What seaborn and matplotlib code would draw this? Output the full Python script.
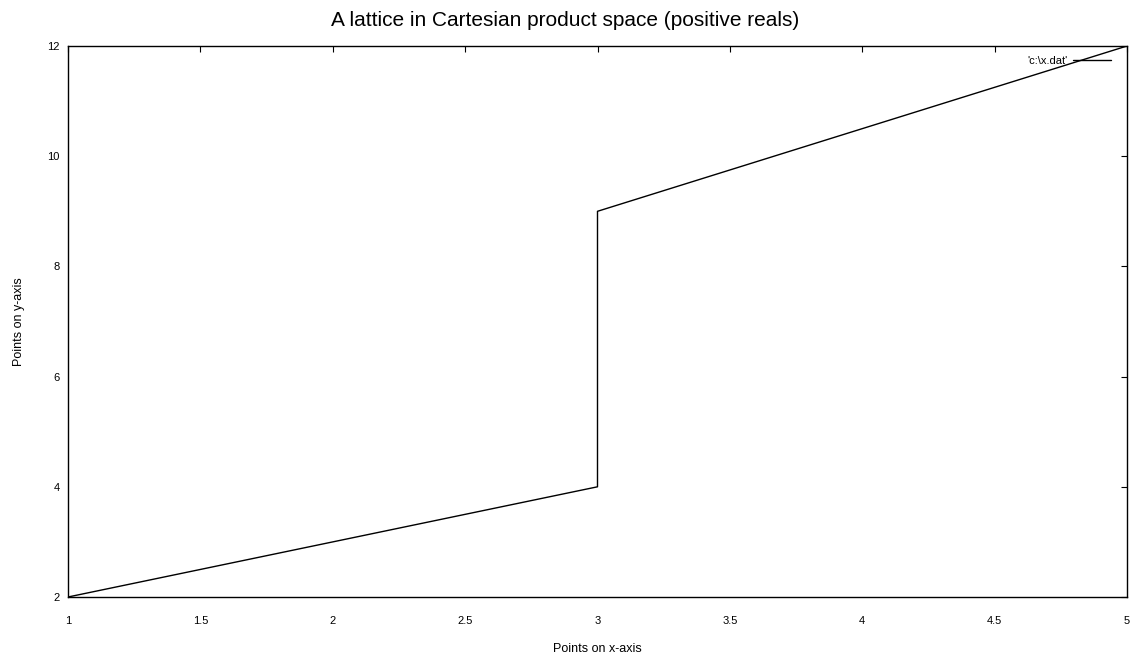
import matplotlib
matplotlib.use("Agg")
import matplotlib.pyplot as plt
import pandas as pd
import seaborn as sns

# data
x_vals = [1, 3, 3, 5]
y_vals = [2, 4, 9, 12]
x_ticks = [1, 1.5, 2, 2.5, 3, 3.5, 4, 4.5, 5]
x_tick_labels = ['1', '1.5', '2', '2.5', '3', '3.5', '4', '4.5', '5']
y_ticks = [2, 4, 6, 8, 10, 12]

df = pd.DataFrame({'x': x_vals, 'y': y_vals})

sns.set_style('white')
plt.rcParams['font.family'] = ['Liberation Sans', 'DejaVu Sans']
plt.rcParams['text.color'] = 'black'
plt.rcParams['axes.labelcolor'] = 'black'
plt.rcParams['xtick.color'] = 'black'
plt.rcParams['ytick.color'] = 'black'

fig = plt.figure(figsize=(11.31, 6.61), dpi=100)
ax = fig.add_axes([68 / 1131, 1 - 597 / 661, (1127 - 68) / 1131, (597 - 46) / 661])

sns.lineplot(data=df, x='x', y='y', ax=ax, color='black', linewidth=1.0,
             sort=False, estimator=None, label="'c:\\x.dat'")

ax.set_xlim(1, 5)
ax.set_ylim(2, 12)
ax.set_xticks(x_ticks)
ax.set_xticklabels(x_tick_labels)
ax.set_yticks(y_ticks)
ax.tick_params(direction='in', length=4, width=0.8, top=True, right=True,
               labelsize=8, pad=14)
ax.tick_params(axis='y', pad=6)
for s in ax.spines.values():
    s.set_color('black')
    s.set_linewidth(1.0)

ax.set_xlabel('Points on x-axis', fontsize=9, labelpad=12)
ax.set_ylabel('Points on y-axis', fontsize=9, labelpad=16)
fig.suptitle('A lattice in Cartesian product space (positive reals)', fontsize=15, y=0.984,
             va='top')

leg = ax.legend(loc='upper right', frameon=False, fontsize=8, markerfirst=False,
                handlelength=3.4, handletextpad=0.5, borderaxespad=0.5,
                bbox_to_anchor=(0.994, 1.0))

fig.savefig('out.png', dpi=100)
